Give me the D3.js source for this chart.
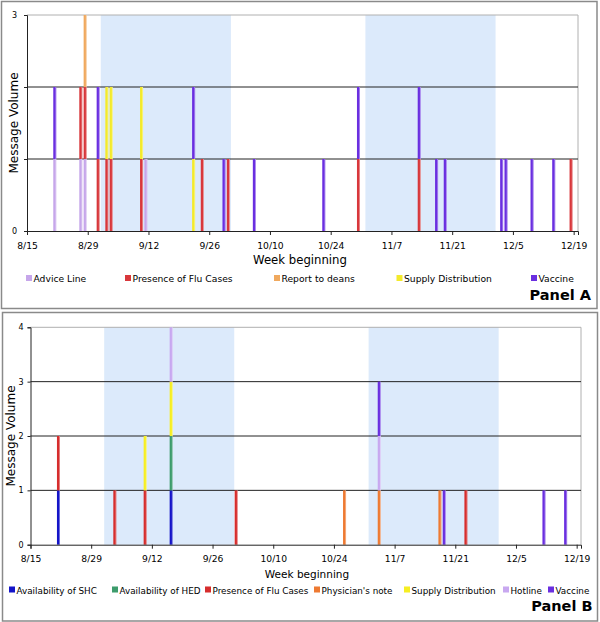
<!DOCTYPE html>
<html>
<head>
<meta charset="utf-8">
<script src="https://cdn.jsdelivr.net/npm/d3@7/dist/d3.min.js"></script>
<style>
  html, body { margin: 0; padding: 0; background: #fff; }
  svg { display: block; font-family: "DejaVu Sans", Verdana, sans-serif; }
</style>
</head>
<body>
<svg id="chart" width="600" height="622"></svg>
<script>
// ---------- DATA ----------
const YEAR = 2009;
const xTickLabels = ["8/15","8/29","9/12","9/26","10/10","10/24","11/7","11/21","12/5","12/19"];
const shadedPeriods = [["9/1","10/1"],["11/1","12/1"]];

// Panel A
const datesA = ["8/21","8/27","8/28","8/31","9/2","9/3","9/10","9/11","9/22","9/24","9/29","9/30",
                "10/6","10/22","10/30","11/13","11/17","11/19","12/2","12/3","12/9","12/14","12/18"];
const seriesNamesA = ["Advice Line","Presence of Flu Cases","Report to deans","Supply Distribution","Vaccine"];
const adviceLineA   = [1,1,1,0,0,0,0,1,0,0,0,0,0,0,0,0,0,0,0,0,0,0,0];
const fluCasesA     = [0,1,1,1,1,1,1,0,0,1,0,1,0,0,1,1,0,0,0,0,0,0,1];
const reportDeansA  = [0,0,1,0,0,0,0,0,0,0,0,0,0,0,0,0,0,0,0,0,0,0,0];
const supplyA       = [0,0,0,0,1,1,1,0,1,0,0,0,0,0,0,0,0,0,0,0,0,0,0];
const vaccineA      = [1,0,0,1,0,0,0,0,1,0,1,0,1,1,1,1,1,1,1,1,1,1,0];
const yTicksA = [0,1,2,3];

// Panel B
const datesB = ["8/21","9/3","9/10","9/16","10/1","10/26","11/3","11/17","11/18","11/23","12/11","12/16"];
const seriesNamesB = ["Availability of SHC","Availability of HED","Presence of Flu Cases","Physician's note",
                      "Supply Distribution","Hotline","Vaccine"];
const shcB       = [1,0,0,1,0,0,0,0,0,0,0,0];
const hedB       = [0,0,0,1,0,0,0,0,0,0,0,0];
const fluCasesB  = [1,1,1,0,1,0,0,0,0,1,0,0];
const physicianB = [0,0,0,0,0,1,1,1,0,0,0,0];
const supplyB    = [0,0,1,1,0,0,0,0,0,0,0,0];
const hotlineB   = [0,0,0,1,0,0,1,0,0,0,0,0];
const vaccineB   = [0,0,0,0,0,0,1,0,1,0,1,1];
const yTicksB = [0,1,2,3,4];

// ---------- STYLE / LAYOUT ----------
const colorsA = ["#c6a6ea","#d8373b","#f0a95e","#f3ea2c","#6a2fe0"];
const colorsB = ["#1414c8","#3d9c6c","#d62d2d","#ee7a32","#f6ee22","#c8a8f0","#6a2fe0"];
const shadeColor = "#dceafb";

const parse = s => { const [m,d] = s.split("/").map(Number); return new Date(Date.UTC(YEAR, m-1, d)); };
const dayMs = 86400000;

const svg = d3.select("#chart");

function drawPanel(cfg) {
  const g = svg.append("g");
  // outer box
  g.append("rect").attr("x", cfg.box[0]).attr("y", cfg.box[1]).attr("width", cfg.box[2]).attr("height", cfg.box[3])
    .attr("fill", "#fff").attr("stroke", "#8a8a8a").attr("stroke-width", 1.5);

  const x = d3.scaleUtc().domain([parse("8/15"), new Date(parse("12/19").getTime() + dayMs)])
    .range([cfg.left, cfg.right]);
  const y = d3.scaleLinear().domain([0, cfg.maxY]).range([cfg.bottom, cfg.top]);
  const dayW = x(new Date(parse("8/15").getTime() + dayMs)) - x(parse("8/15"));

  // shaded periods
  g.selectAll("rect.shade").data(shadedPeriods).join("rect").attr("class","shade")
    .attr("x", d => x(parse(d[0]))).attr("width", d => x(parse(d[1])) - x(parse(d[0])))
    .attr("y", cfg.top).attr("height", cfg.bottom - cfg.top).attr("fill", shadeColor);

  // plot frame top/right (light)
  g.append("line").attr("x1", cfg.left).attr("x2", cfg.right).attr("y1", cfg.top).attr("y2", cfg.top)
    .attr("stroke", "#b0b0b0").attr("stroke-width", 1);
  g.append("line").attr("x1", cfg.right).attr("x2", cfg.right).attr("y1", cfg.top).attr("y2", cfg.bottom)
    .attr("stroke", "#b0b0b0").attr("stroke-width", 1);

  // gridlines
  const gridVals = cfg.yTicks.filter(v => v > 0 && v < cfg.maxY);
  g.selectAll("line.grid").data(gridVals).join("line").attr("class","grid")
    .attr("x1", cfg.left).attr("x2", cfg.right).attr("y1", d => y(d)).attr("y2", d => y(d))
    .attr("stroke", "#222").attr("stroke-width", 1);

  // stacked bars
  const rows = cfg.dates.map((d, i) => {
    const r = { date: parse(d) };
    cfg.names.forEach((n, k) => r[n] = cfg.values[k][i]);
    return r;
  });
  const stacked = d3.stack().keys(cfg.names)(rows);
  const barW = 3;
  stacked.forEach((layer, k) => {
    const lg = g.append("g");
    const segs = layer.filter(s => s[1] > s[0]);
    lg.selectAll("rect").data(segs).join("rect")
      .attr("x", s => x(s.data.date) + dayW * cfg.barOffset - barW / 2)
      .attr("width", barW)
      .attr("y", s => y(s[1])).attr("height", s => y(s[0]) - y(s[1]))
      .attr("fill", cfg.colors[k]);
    lg.selectAll("rect.hl").data(segs).join("rect").attr("class","hl")
      .attr("x", s => x(s.data.date) + dayW * cfg.barOffset + barW / 2 - 0.8)
      .attr("width", 0.8)
      .attr("y", s => y(s[1])).attr("height", s => y(s[0]) - y(s[1]))
      .attr("fill", "#fff").attr("opacity", 0.45);
  });

  // y axis
  const ya = g.append("g").attr("transform", `translate(${cfg.left},0)`)
    .call(d3.axisLeft(y).tickValues(cfg.yTicks).tickSize(3).tickPadding(cfg.yLabelPad).tickFormat(d3.format("d")));
  ya.select(".domain").attr("stroke", "#222");
  ya.selectAll(".tick line").attr("stroke", "#222");
  ya.selectAll(".tick text").attr("font-size", 8).attr("fill", "#000").attr("font-family", "DejaVu Sans");

  // x axis
  const xa = g.append("g").attr("transform", `translate(0,${cfg.bottom})`)
    .call(d3.axisBottom(x).tickValues(xTickLabels.map(parse)).tickSize(4).tickPadding(7)
      .tickFormat((d, i) => xTickLabels[i]));
  xa.select(".domain").attr("stroke", "#222");
  xa.selectAll(".tick line").attr("stroke", "#222");
  xa.selectAll(".tick text").attr("font-size", 9.2).attr("fill", "#000").attr("font-family", "DejaVu Sans");

  // y title with opaque background
  const tg = g.append("g").attr("transform", `translate(${cfg.titleX},${(cfg.top + cfg.bottom) / 2}) rotate(-90)`);
  const bgRect = tg.append("rect").attr("fill", "#fff");
  const tt = tg.append("text").attr("text-anchor", "middle").attr("font-size", 12).attr("fill", "#000")
    .text("Message Volume");
  const bb = tt.node().getBBox();
  bgRect.attr("x", bb.x).attr("y", bb.y + 1).attr("width", bb.width).attr("height", bb.height - 1.5);

  // x title
  g.append("text").attr("x", cfg.xTitle[0]).attr("y", cfg.xTitle[1]).attr("text-anchor", "middle")
    .attr("font-size", cfg.xTitleSize).attr("fill", "#000").text("Week beginning");

  // legend
  const leg = g.append("g");
  cfg.names.forEach((n, k) => {
    const lx = cfg.legendX[k];
    leg.append("rect").attr("x", lx).attr("y", cfg.legendY - 7).attr("width", 6).attr("height", 6)
      .attr("fill", cfg.colors[k]);
    leg.append("text").attr("x", lx + 7.5).attr("y", cfg.legendY).attr("font-size", cfg.legendSize).attr("fill", "#000")
      .text(n);
  });

  // panel label
  g.append("text").attr("x", cfg.panelLabel[0]).attr("y", cfg.panelLabel[1]).attr("text-anchor", "end")
    .attr("font-size", 14.5).attr("font-weight", "bold").attr("fill", "#000").text(cfg.panelText);
}

drawPanel({
  box: [1.5, 1.5, 595.5, 307],
  left: 27, right: 578, top: 15, bottom: 231, maxY: 3,
  yTicks: yTicksA, yLabelPad: 7,
  dates: datesA, names: seriesNamesA, colors: colorsA,
  values: [adviceLineA, fluCasesA, reportDeansA, supplyA, vaccineA],
  barOffset: 0.4,
  titleX: 17.5,
  xTitle: [300, 264], xTitleSize: 11.7,
  legendX: [26, 125, 274, 396.5, 531], legendY: 282, legendSize: 9.2,
  panelLabel: [591, 300], panelText: "Panel A"
});

drawPanel({
  box: [2.5, 312.5, 595, 308.5],
  left: 30.5, right: 581, top: 327.3, bottom: 544.7, maxY: 4,
  yTicks: yTicksB, yLabelPad: 4,
  dates: datesB, names: seriesNamesB, colors: colorsB,
  values: [shcB, hedB, fluCasesB, physicianB, supplyB, hotlineB, vaccineB],
  barOffset: 0.45,
  titleX: 15,
  xTitle: [307, 578], xTitleSize: 10.5,
  legendX: [9, 112, 205, 314, 404, 503, 548], legendY: 593.5, legendSize: 8.8,
  panelLabel: [592.5, 611], panelText: "Panel B"
});
</script>
</body>
</html>
